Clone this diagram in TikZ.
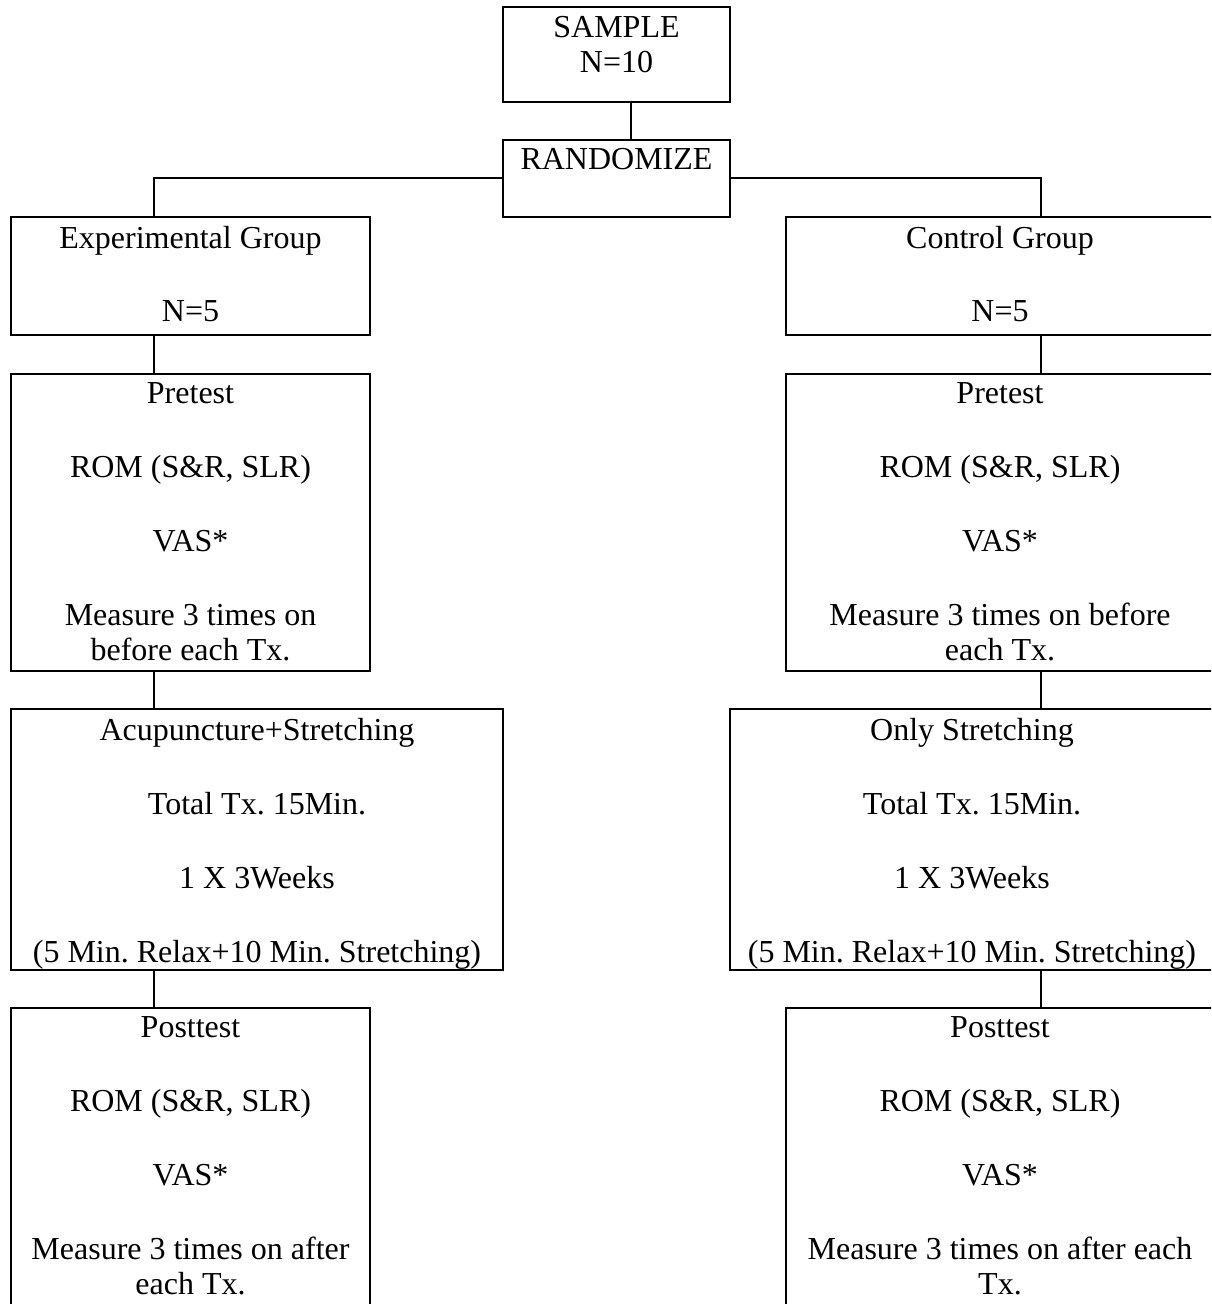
\documentclass[tikz,border=0pt]{standalone}
\usepackage{fontspec}
\setmainfont{Liberation Serif}
\usetikzlibrary{positioning}

\begin{document}
\frenchspacing
\begin{tikzpicture}[x=0.5pt, y=-0.5pt,
        box/.style={draw, line width=1pt, inner sep=0pt},
        txt/.style={inner sep=0pt, align=center, font=\fontsize{16}{17.5}\selectfont}]
    % Page frame (boxes on the right and bottom run past the edge)
        \useasboundingbox (0,0) rectangle (1211,1304);
        \clip (0,0) rectangle (1211,1304);

        % Spines for the two branches
        \coordinate (lspine) at (154,0);
        \coordinate (rspine) at (1041,0);

        % Top boxes
        \node[box, minimum width=113.5pt, minimum height=47.5pt] (sample) at (616.5,54.5) {};
        \node[box, minimum width=113.5pt, minimum height=38.5pt] (rand) at (616.5,178.3) {};

        % Group boxes
        \node[box, minimum width=179.5pt, minimum height=59pt] (expgrp) at (190.5,276) {};
        \node[box, minimum width=214pt, minimum height=59pt] (ctlgrp) at (1000,276) {};

        % Pretest boxes
        \node[box, minimum width=179.5pt, minimum height=148.5pt] (preL) at (190.5,522.5) {};
        \node[box, minimum width=214pt, minimum height=148.5pt] (preR) at (1000,522.5) {};

        % Treatment boxes
        \node[box, minimum width=246pt, minimum height=130.5pt] (acup) at (257,839.5) {};
        \node[box, minimum width=242pt, minimum height=130.5pt] (only) at (972,839.5) {};

        % Posttest boxes
        \node[box, minimum width=179.5pt, minimum height=150pt] (postL) at (190.5,1158) {};
        \node[box, minimum width=214pt, minimum height=150pt] (postR) at (1000,1158) {};

        % Box texts
        \node[txt, below=4.8pt of sample.north] (sampletxt) {SAMPLE\\N=10};
        \node[txt, below=4.8pt of rand.north] (randtxt) {RANDOMIZE};
        \node[txt, below=4.8pt of expgrp.north] (expgrptxt) {Experimental Group\\[19pt]N=5};
        \node[txt, below=4.8pt of ctlgrp.north] (ctlgrptxt) {Control Group\\[19pt]N=5};
        \node[txt, below=4.8pt of preL.north] (preLtxt)
            {Pretest\\[19.5pt]ROM (S\&R, SLR)\\[19.5pt]VAS*\\[19.5pt]Measure 3 times on\\before each Tx.};
        \node[txt, below=4.8pt of preR.north] (preRtxt)
            {Pretest\\[19.5pt]ROM (S\&R, SLR)\\[19.5pt]VAS*\\[19.5pt]Measure 3 times on before\\each Tx.};
        \node[txt, below=4.8pt of acup.north] (acuptxt)
            {Acupuncture+Stretching\\[19.5pt]Total Tx. 15Min.\\[19.5pt]1 X 3Weeks\\[19.5pt](5 Min. Relax+10 Min. Stretching)};
        \node[txt, below=4.8pt of only.north] (onlytxt)
            {Only Stretching\\[19.5pt]Total Tx. 15Min.\\[19.5pt]1 X 3Weeks\\[19.5pt](5 Min. Relax+10 Min. Stretching)};
        \node[txt, below=4.8pt of postL.north] (postLtxt)
            {Posttest\\[19.5pt]ROM (S\&R, SLR)\\[19.5pt]VAS*\\[19.5pt]Measure 3 times on after\\each Tx.};
        \node[txt, below=4.8pt of postR.north] (postRtxt)
            {Posttest\\[19.5pt]ROM (S\&R, SLR)\\[19.5pt]VAS*\\[19.5pt]Measure 3 times on after each\\Tx.};

        % Connectors
        \draw[line width=1pt] ([xshift=7.25pt]sample.south) -- ([xshift=7.25pt]rand.north);
        \draw[line width=1pt] (rand.west) -| (expgrp.north -| lspine);
        \draw[line width=1pt] (rand.east) -| (ctlgrp.north -| rspine);
        \foreach \a/\b in {expgrp/preL, preL/acup, acup/postL}
            \draw[line width=1pt] (\a.south -| lspine) -- (\b.north -| lspine);
        \foreach \a/\b in {ctlgrp/preR, preR/only, only/postR}
            \draw[line width=1pt] (\a.south -| rspine) -- (\b.north -| rspine);

    \end{tikzpicture}
\end{document}
